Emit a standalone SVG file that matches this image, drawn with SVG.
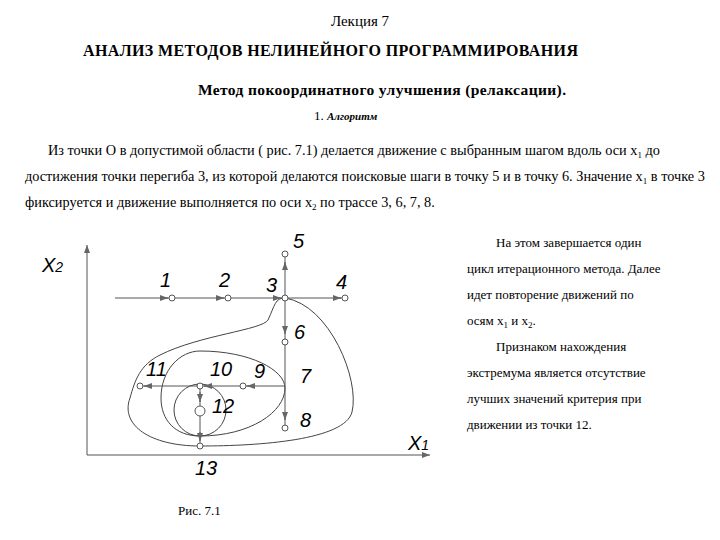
<svg xmlns="http://www.w3.org/2000/svg" width="720" height="540" viewBox="0 0 720 540">
<defs>
<style>
.t{font-family:"Liberation Serif",serif;font-size:13px;fill:#000}
.b{font-size:14.3px}
.l{font-family:"Liberation Sans",sans-serif;font-style:italic;font-size:20px;fill:#000}
.ln{stroke:#555;stroke-width:1;fill:none}
.c{stroke:#444;stroke-width:1;fill:none}
.p{fill:#fff;stroke:#555;stroke-width:1}
</style>
<marker id="a" markerWidth="8" markerHeight="6" refX="8" refY="3" orient="auto"><path d="M0,0 L8,3 L0,6 Z" fill="#666"/></marker>
</defs>
<rect width="720" height="540" fill="#fff"/>
<text class="t" x="360" y="26" text-anchor="middle" style="font-size:15px">Лекция 7</text>
<text class="t" x="83" y="56" font-weight="bold" style="font-size:16px" textLength="495" lengthAdjust="spacing">АНАЛИЗ  МЕТОДОВ  НЕЛИНЕЙНОГО ПРОГРАММИРОВАНИЯ</text>
<text class="t" x="198" y="95" font-weight="bold" style="font-size:15.5px" textLength="368" lengthAdjust="spacing">Метод покоординатного улучшения  (релаксации).</text>
<text class="t" x="314" y="120">1. <tspan font-weight="bold" font-style="italic" style="font-size:11px">Алгоритм</tspan></text>
<g class="t b">
<text x="48" y="155">Из точки O в  допустимой области ( рис.  7.1) делается движение с выбранным шагом вдоль оси x<tspan style="font-size:9px" dy="3">1</tspan><tspan dy="-3"> до</tspan></text>
<text x="25" y="181">достижения точки перегиба 3, из которой делаются поисковые шаги в точку 5 и в точку 6. Значение x<tspan style="font-size:9px" dy="3">1</tspan><tspan dy="-3"> в точке 3</tspan></text>
<text x="25" y="207">фиксируется и движение выполняется по оси x<tspan style="font-size:9px" dy="3">2</tspan><tspan dy="-3"> по трассе 3, 6, 7, 8.</tspan></text>
</g>
<g id="text-right" class="t">
<text x="496" y="247">На этом завершается один</text>
<text x="467" y="273">цикл итерационного метода. Далее</text>
<text x="467" y="299">идет повторение движений по</text>
<text x="467" y="325">осям x<tspan style="font-size:9px" dy="3">1</tspan><tspan dy="-3"> и x</tspan><tspan style="font-size:9px" dy="3">2</tspan><tspan dy="-3">.</tspan></text>
<text x="496" y="351">Признаком нахождения</text>
<text x="467" y="377">экстремума является отсутствие</text>
<text x="467" y="403">лучших значений критерия при</text>
<text x="467" y="429">движении из точки 12.</text>
</g>
<text class="t" x="178" y="515">Рис. 7.1</text>
<g id="axes">
<line class="ln" x1="87" y1="455" x2="87" y2="245" marker-end="url(#a)"/>
<line class="ln" x1="87" y1="455" x2="430" y2="455" marker-end="url(#a)"/>
<text class="l" x="42" y="272">X<tspan style="font-size:14px">2</tspan></text>
<text class="l" x="408" y="450">X<tspan style="font-size:14px">1</tspan></text>
</g>
<g id="contours">
<path class="c" d="M285,298 C330,305 360,380 352,412 C345,440 260,446 200,446 C150,446 120,425 130,398 C135,380 140,365 160,355 C200,335 262,330 268,320 C275,305 275,298 285,298 Z"/>
<path class="c" d="M200,351 C250,351 285,370 285,388 C285,412 250,436 200,436 C175,436 161,420 161,398 C161,370 180,351 200,351 Z"/>
<circle class="c" cx="200" cy="410" r="26"/>
</g>
<g id="connectors">
<line class="ln" x1="115" y1="298" x2="345" y2="298"/>
<line class="ln" x1="285" y1="254" x2="285" y2="428"/>
<line class="ln" x1="140" y1="386" x2="285" y2="386"/>
<line class="ln" x1="200" y1="386" x2="200" y2="446"/>
<line class="ln" x1="160" y1="298" x2="168" y2="298" marker-end="url(#a)"/>
<line class="ln" x1="216" y1="298" x2="224" y2="298" marker-end="url(#a)"/>
<line class="ln" x1="273" y1="298" x2="281" y2="298" marker-end="url(#a)"/>
<line class="ln" x1="333" y1="298" x2="341" y2="298" marker-end="url(#a)"/>
<line class="ln" x1="285" y1="270" x2="285" y2="262" marker-end="url(#a)"/>
<line class="ln" x1="285" y1="326" x2="285" y2="334" marker-end="url(#a)"/>
<line class="ln" x1="285" y1="412" x2="285" y2="420" marker-end="url(#a)"/>
<line class="ln" x1="255" y1="386" x2="247" y2="386" marker-end="url(#a)"/>
<line class="ln" x1="212" y1="386" x2="204" y2="386" marker-end="url(#a)"/>
<line class="ln" x1="152" y1="386" x2="144" y2="386" marker-end="url(#a)"/>
<line class="ln" x1="200" y1="392" x2="200" y2="402" marker-end="url(#a)"/>
<line class="ln" x1="200" y1="432" x2="200" y2="441" marker-end="url(#a)"/>
</g>
<g id="points">
<circle class="p" cx="172" cy="298" r="3"/><circle class="p" cx="228" cy="298" r="3"/>
<circle class="p" cx="285" cy="298" r="3"/><circle class="p" cx="345" cy="298" r="3"/>
<circle class="p" cx="285" cy="254" r="3"/><circle class="p" cx="285" cy="342" r="3"/>
<circle class="p" cx="285" cy="428" r="3"/><circle class="p" cx="243" cy="386" r="3"/>
<circle class="p" cx="140" cy="386" r="3"/><circle class="p" cx="200" cy="386" r="3"/>
<circle class="p" cx="200" cy="411" r="5"/><circle class="p" cx="200" cy="446" r="3"/>
</g>
<g id="labels" class="l">
<text x="160" y="287">1</text><text x="219" y="287">2</text><text x="266" y="292">3</text>
<text x="336" y="289">4</text><text x="293" y="248">5</text><text x="294" y="339">6</text>
<text x="300" y="383">7</text><text x="300" y="427">8</text><text x="254" y="378">9</text>
<text x="210" y="376">10</text><text x="146" y="376">11</text><text x="212" y="413">12</text>
<text x="195" y="475">13</text>
</g>
</svg>
